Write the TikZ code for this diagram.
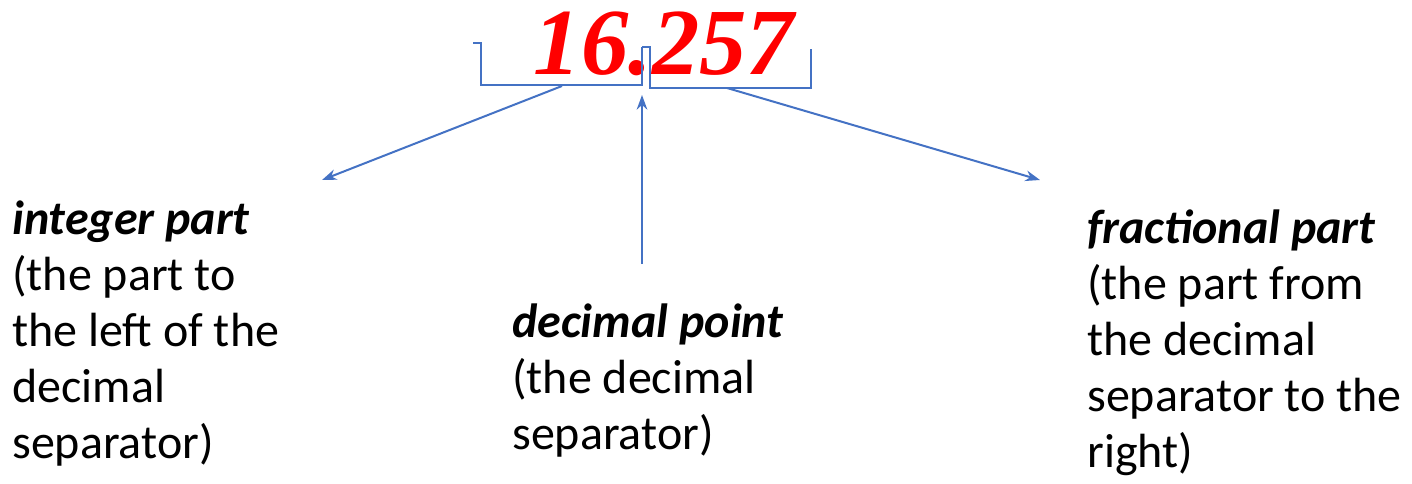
\documentclass[tikz,border=0pt]{standalone}
\usepackage{fontspec}
\setsansfont{Carlito}
\newfontfamily\numfont{Liberation Serif}
\usepackage{xcolor}
\usepackage{tikz}
\usetikzlibrary{arrows.meta,positioning}
\definecolor{linkblue}{RGB}{68,114,196}
\definecolor{numred}{RGB}{255,0,0}
\newcommand{\parthead}[1]{\textbf{\textit{#1}}}

\begin{document}
\begin{tikzpicture}[x=0.75pt,y=-0.75pt,
    font=\sffamily\fontsize{36}{42}\selectfont,
    bracket/.style={linkblue,line width=1.5pt},
    pointer/.style={linkblue,line width=1.5pt,-{Stealth[length=11pt,width=8pt]}},
    partlabel/.style={align=left,anchor=base west,inner sep=0pt}]
  \useasboundingbox (0,0) rectangle (1412,483);
  \node[inner sep=0pt,anchor=base,numred,
    font=\numfont\bfseries\itshape\fontsize{71}{80}\selectfont] (num) at (664,74) {16.257};
  % brackets under the two parts
  \draw[bracket] (473,43) -- (481,43) -- (481,85) -- (642,85) -- (642,47);
  \draw[bracket] (642,47) -- (650,47) -- (650,88) -- (811,88) -- (811,49);
  \coordinate (intfoot) at (562,86);
  \coordinate (fracfoot) at (727,88);
  \coordinate (pointtip) at (642,95);
  \coordinate (inttip) at (322,180);
  \coordinate (fractip) at (1040,180);
  \coordinate (pointfoot) at (642,264);
  % labels (anchored at the baseline of the last line)
  \node[partlabel] (intpart) at (12,458)
    {\parthead{integer part}\\(the part to\\the left of the\\decimal\\separator)};
  \node[partlabel] (pointpart) at (512,449)
    {\parthead{decimal point}\\(the decimal\\separator)};
  \node[partlabel] (fracpart) at (1087,467)
    {\parthead{fractional part}\\(the part from\\the decimal\\separator to the\\right)};
  \draw[pointer] (intfoot) -- (inttip);
  \draw[pointer] (pointfoot) -- (pointtip);
  \draw[pointer] (fracfoot) -- (fractip);
\end{tikzpicture}
\end{document}
